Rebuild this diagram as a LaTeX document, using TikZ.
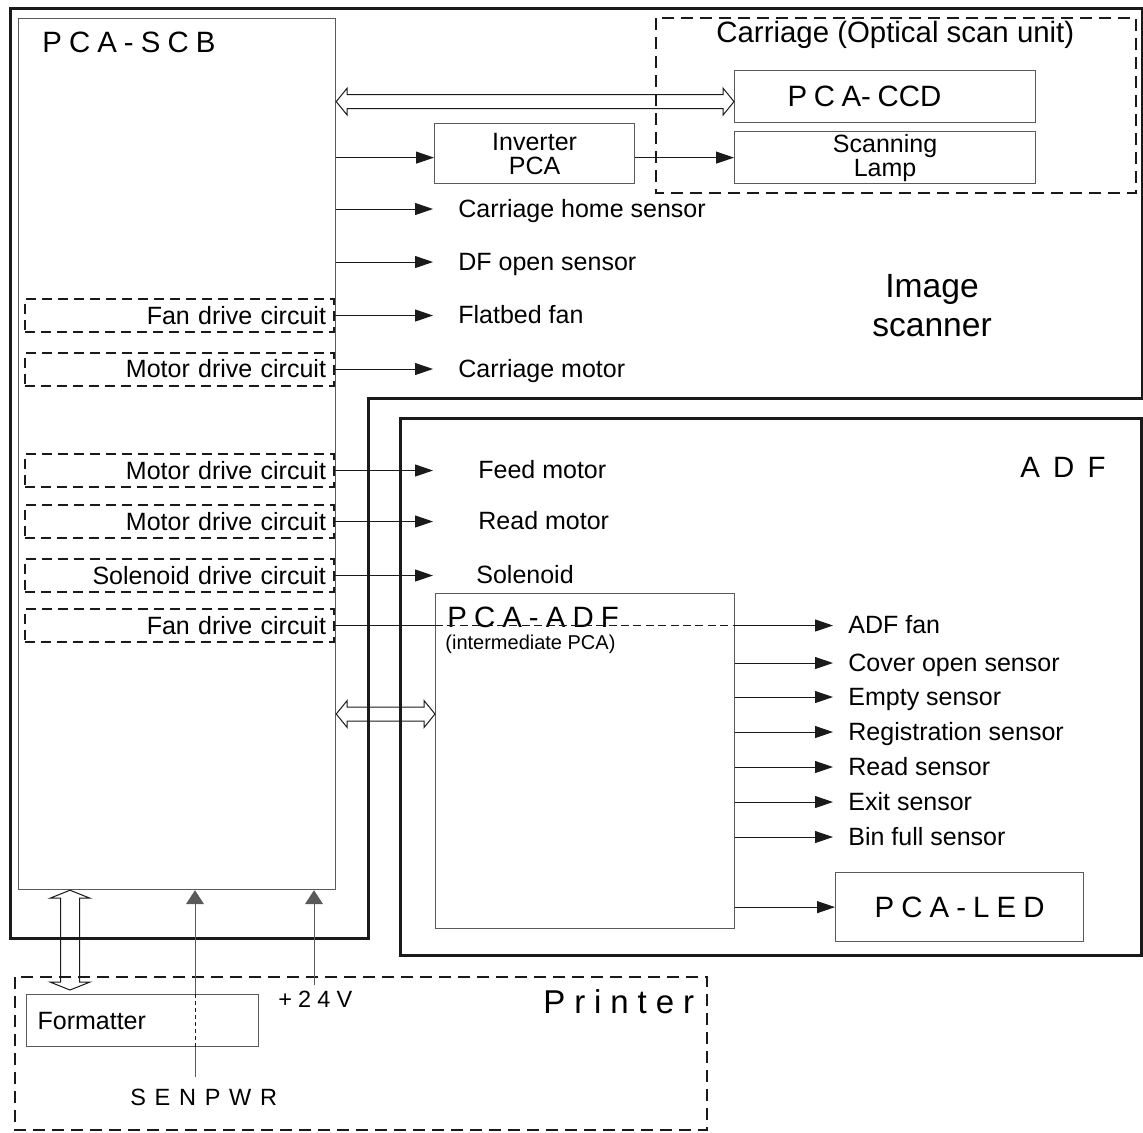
\documentclass[tikz,border=0pt]{standalone}
\usepackage{fontspec}
\setmainfont{Liberation Sans}
\usetikzlibrary{positioning, arrows.meta, calc}
\definecolor{ink}{HTML}{1a1a1a}
\definecolor{grayline}{HTML}{5a5a5a}

\begin{document}
\begin{tikzpicture}[
  x=0.5pt, y=-0.5pt,
  font=\fontsize{12.5}{12}\selectfont,
  board/.style={draw=grayline, line width=0.6pt, anchor=north west, inner ysep=1pt, align=center},
  drive/.style={draw=ink, line width=1pt, dash pattern=on 5pt off 3pt, anchor=east, minimum width=154.5pt, minimum height=16.5pt, text width=146.5pt, inner xsep=4pt, inner ysep=0pt, align=right},
  casing/.style={draw=ink, line width=1.5pt},
  unitbox/.style={draw=ink, line width=1.2pt, dash pattern=on 6pt off 3.5pt},
  boardname/.style={font=\fontsize{14.7}{16}\selectfont\addfontfeature{LetterSpace=24}},
  lbl/.style={anchor=west, inner sep=0pt},
  sigtext/.style={anchor=west, inner sep=0pt, text height=10pt, text depth=2pt},
  link/.style={line width=0.5pt, ink},
  sig/.style={link, -{Triangle[length=9pt, width=6pt]}},
  pwr/.style={line width=0.5pt, grayline, -{Triangle[length=7pt, width=9pt]}},
  hbus/.style={draw=ink, line width=0.5pt, to path={-- ++(11,-13.5) -- ++(0,6.5) -- ($(\tikztotarget)+(-11,-7)$) -- ++(0,-6.5) -- (\tikztotarget) -- ++(-11,13.5) -- ++(0,-6.5) -- ($(\tikztostart)+(11,7)$) -- ++(0,6.5) -- cycle}},
  vbus/.style={draw=ink, line width=0.5pt, to path={-- ++(-20,8) -- ++(10.5,0) -- ($(\tikztotarget)+(-9.5,-8)$) -- ++(-10.5,0) -- (\tikztotarget) -- ++(20,-8) -- ++(-10.5,0) -- ($(\tikztostart)+(9.5,8)$) -- ++(10.5,0) -- cycle}}
]
  \useasboundingbox (0,0) rectangle (1143,1132);

  % Outer units
  \draw[casing] (10,8) -- (1142,8) -- (1142,398) -- (368,398) -- (368,938) -- (10,938) -- cycle;
  \draw[casing] (400,418) rectangle (1141,955);
  \draw[unitbox] (656,18) rectangle (1136,193);
  \draw[unitbox] (15,977) rectangle (707,1130);

  % Boards
  \node[board, minimum width=158.5pt, minimum height=435.5pt] (scb) at (18,18) {};
  \node[board, minimum width=150.5pt, minimum height=26pt, text width=97.5pt, inner xsep=26.5pt, align=left, font=\fontsize{14.7}{16}\selectfont] (ccd) at (734,70) {P\hspace{3.3pt}C\hspace{3.3pt}A-\hspace{3.3pt}CCD};
  \node[board, minimum width=150.5pt, minimum height=26pt] (lamp) at (734,131) {Scanning\\Lamp};
  \node[board, minimum width=100pt, minimum height=30pt] (inv) at (434,123) {Inverter\\PCA};
  \node[board, minimum width=149.5pt, minimum height=167.5pt] (adfb) at (435,593) {};
  \node[board, boardname, minimum width=124pt, minimum height=34.5pt] (led) at (835,872) {PCA-LED};
  \node[board, minimum width=116pt, minimum height=26pt, text width=105pt, inner xsep=5.5pt, align=left] (fmt) at (26,994) {Formatter};

  % Titles
  \node[boardname, lbl] (scbname) at (42,42.5) {PCA-SCB};
  \node[boardname, lbl] (adfname) at (447,617.5) {PCA-ADF};
  \node[lbl, font=\fontsize{10}{12}\selectfont] (adfsub) at (445,644) {(intermediate PCA)};
  \node[lbl, font=\fontsize{14.7}{16}\selectfont] (carname) at (716,35) {Carriage (Optical scan unit)};
  \node[align=center, font=\fontsize{16.8}{19.5}\selectfont] (scanname) at (932,306) {Image\\scanner};
  \node[lbl, font=\fontsize{14.7}{16}\selectfont\addfontfeature{LetterSpace=45}] (adfunit) at (1020,467.5) {ADF};
  \node[lbl, font=\fontsize{16.5}{18}\selectfont\addfontfeature{LetterSpace=27}] (prname) at (543,1002) {Printer};

  % Drive circuits
  \node[drive] (fan1) at (335,315.5) {Fan drive circuit};
  \node[drive] (mot1) at (335,369) {Motor drive circuit};
  \node[drive] (mot2) at (335,470.5) {Motor drive circuit};
  \node[drive] (mot3) at (335,521.5) {Motor drive circuit};
  \node[drive] (sol) at (335,575.5) {Solenoid drive circuit};
  \node[drive] (fan2) at (335,625.5) {Fan drive circuit};

  \coordinate (tipL) at (433,0);
  \coordinate (tipR) at (833,0);

  % Scanner loads
  \node[sigtext] (home) at (458,209) {Carriage home sensor};
  \node[sigtext] (dfopen) at (458,262) {DF open sensor};
  \node[sigtext] (flatfan) at (458,315.5) {Flatbed fan};
  \node[sigtext] (carmot) at (458,369) {Carriage motor};
  \node[sigtext] (feed) at (478,470.5) {Feed motor};
  \node[sigtext] (readmot) at (478,521.5) {Read motor};
  \node[sigtext] (solen) at (476,575.5) {Solenoid};

  \draw[sig] (scb.east |- lamp.west) -- (inv.west |- lamp.west);
  \draw[sig] (inv.east |- lamp.west) -- (lamp.west);
  \draw[sig] (scb.east |- home) -- (tipL |- home);
  \draw[sig] (scb.east |- dfopen) -- (tipL |- dfopen);
  \draw[sig] (fan1.east) -- (tipL |- fan1.east);
  \draw[sig] (mot1.east) -- (tipL |- mot1.east);
  \draw[sig] (mot2.east) -- (tipL |- mot2.east);
  \draw[sig] (mot3.east) -- (tipL |- mot3.east);
  \draw[sig] (sol.east) -- (tipL |- sol.east);

  % ADF loads
  \node[sigtext] (adffan) at (848,625.5) {ADF fan};
  \node[sigtext] (cover) at (848,663) {Cover open sensor};
  \node[sigtext] (empty) at (848,697) {Empty sensor};
  \node[sigtext] (regist) at (848,732) {Registration sensor};
  \node[sigtext] (readsen) at (848,767) {Read sensor};
  \node[sigtext] (exitsen) at (848,802) {Exit sensor};
  \node[sigtext] (binfull) at (848,837) {Bin full sensor};

  \draw[link] (fan2.east) -- (adfb.west |- fan2.east);
  \draw[link, line width=0.7pt, dash pattern=on 4pt off 2.2pt] (adfb.west |- fan2.east) -- (adfb.east |- fan2.east);
  \draw[sig] (adfb.east |- fan2.east) -- (tipR |- fan2.east);
  \draw[sig] (adfb.east |- cover) -- (tipR |- cover);
  \draw[sig] (adfb.east |- empty) -- (tipR |- empty);
  \draw[sig] (adfb.east |- regist) -- (tipR |- regist);
  \draw[sig] (adfb.east |- readsen) -- (tipR |- readsen);
  \draw[sig] (adfb.east |- exitsen) -- (tipR |- exitsen);
  \draw[sig] (adfb.east |- binfull) -- (tipR |- binfull);
  \draw[sig] (adfb.east |- led.west) -- (led.west);

  % Data buses
  \coordinate (ccdin) at ([yshift=-2.5pt]ccd.west);
  \draw[hbus] (scb.east |- ccdin) to (ccdin);
  \coordinate (adfin) at (adfb.west |- 0,714);
  \draw[hbus] (scb.east |- adfin) to (adfin);
  \coordinate (fmtin) at (70,990);
  \draw[vbus] (scb.south -| fmtin) to (fmtin);

  % Power from printer
  \node[lbl, font=\fontsize{11.75}{14}\selectfont\addfontfeature{LetterSpace=37}] (senpwr) at (130,1097.5) {SENPWR};
  \node[lbl, font=\fontsize{11.75}{14}\selectfont\addfontfeature{LetterSpace=26}] (v24) at (278,999.5) {+24V};
  \coordinate (senbot) at (195,1077);
  \draw[link, grayline] (senbot) -- (senbot |- fmt.south);
  \draw[link, dash pattern=on 2pt off 1.5pt] (senbot |- fmt.south) -- (senbot |- fmt.north);
  \draw[pwr] (senbot |- fmt.north) -- (senbot |- scb.south);
  \coordinate (v24top) at (314,985);
  \draw[pwr] (v24top) -- (v24top |- scb.south);
\end{tikzpicture}
\end{document}
